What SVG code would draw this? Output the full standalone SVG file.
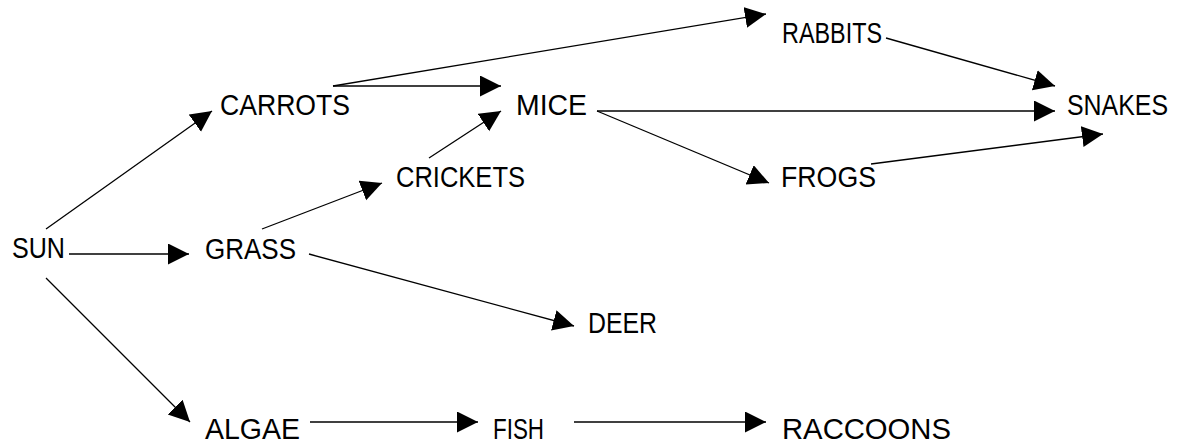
<svg xmlns="http://www.w3.org/2000/svg" width="1178" height="444" viewBox="0 0 1178 444">
<style>
  text { font-family: "Liberation Sans", Arial, sans-serif; font-size: 29px; fill: #000; }
  .c line { stroke: #000; stroke-width: 1.3; marker-end: url(#ah); }
</style>
<defs>
  <marker id="ah" markerUnits="userSpaceOnUse" markerWidth="22" markerHeight="22" refX="21" refY="10.5" orient="auto" viewBox="0 0 22 22">
    <path d="M0,0 L21,10.5 L0,21 Z" fill="#000"/>
  </marker>
</defs>
<rect width="1178" height="444" fill="#fff"/>
<g id="connectors" class="c">
  <line x1="46" y1="229" x2="212" y2="111"/>
  <line x1="69" y1="254" x2="189" y2="254"/>
  <line x1="46" y1="278" x2="190" y2="422"/>
  <line x1="262" y1="229" x2="382" y2="183"/>
  <line x1="309" y1="254" x2="574" y2="326"/>
  <line x1="333" y1="86" x2="501" y2="86"/>
  <line x1="333" y1="86" x2="766" y2="14"/>
  <line x1="429" y1="158" x2="501" y2="111"/>
  <line x1="597" y1="111" x2="1055" y2="111"/>
  <line x1="597" y1="111" x2="769" y2="183"/>
  <line x1="886" y1="38" x2="1055" y2="86"/>
  <line x1="871" y1="164" x2="1103" y2="134"/>
  <line x1="310" y1="422" x2="478" y2="422"/>
  <line x1="574" y1="422" x2="766" y2="422"/>
</g>
<g id="sun"><text x="12" y="258" textLength="53" lengthAdjust="spacingAndGlyphs">SUN</text></g>
<g id="grass"><text x="205" y="259" textLength="91" lengthAdjust="spacingAndGlyphs">GRASS</text></g>
<g id="carrots"><text x="220" y="115" textLength="130" lengthAdjust="spacingAndGlyphs">CARROTS</text></g>
<g id="mice"><text x="516" y="115" textLength="71" lengthAdjust="spacingAndGlyphs">MICE</text></g>
<g id="crickets"><text x="396" y="187" textLength="129" lengthAdjust="spacingAndGlyphs">CRICKETS</text></g>
<g id="rabbits"><text x="782" y="43" textLength="100" lengthAdjust="spacingAndGlyphs">RABBITS</text></g>
<g id="snakes"><text x="1067" y="115" textLength="101" lengthAdjust="spacingAndGlyphs">SNAKES</text></g>
<g id="frogs"><text x="781" y="187" textLength="95" lengthAdjust="spacingAndGlyphs">FROGS</text></g>
<g id="deer"><text x="588" y="333" textLength="69" lengthAdjust="spacingAndGlyphs">DEER</text></g>
<g id="algae"><text x="205" y="439" textLength="95" lengthAdjust="spacingAndGlyphs">ALGAE</text></g>
<g id="fish"><text x="493" y="439" textLength="51" lengthAdjust="spacingAndGlyphs">FISH</text></g>
<g id="raccoons"><text x="782" y="439" textLength="169" lengthAdjust="spacingAndGlyphs">RACCOONS</text></g>
</svg>
